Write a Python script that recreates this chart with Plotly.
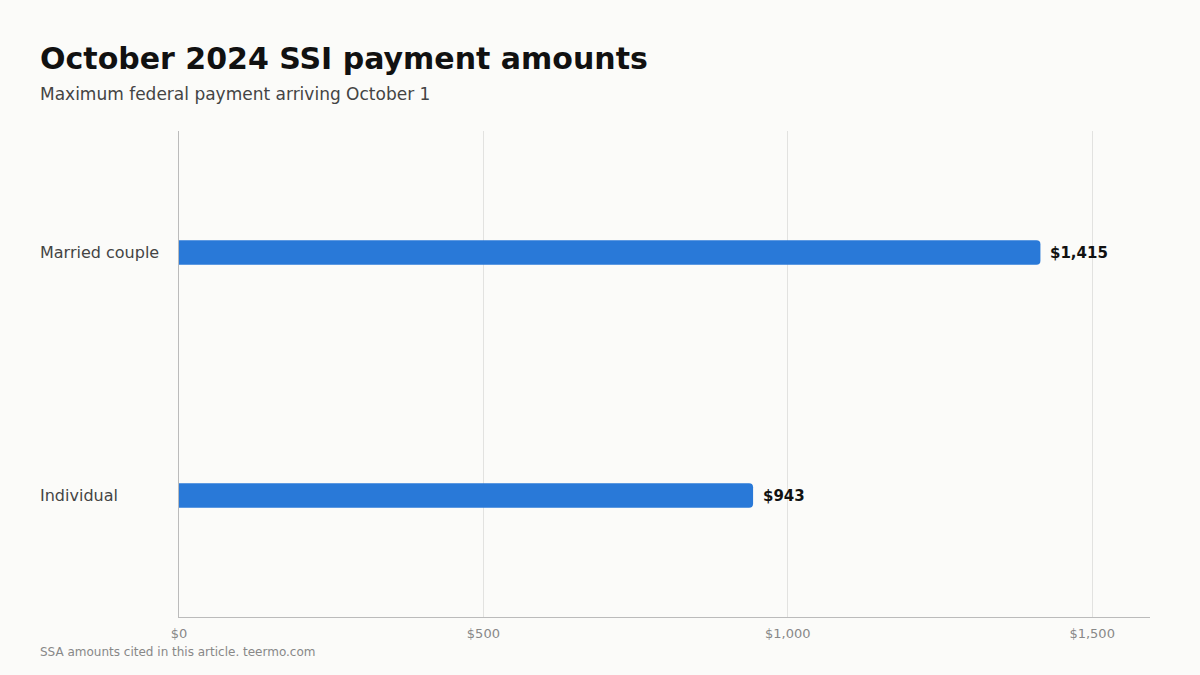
import plotly.graph_objects as go

categories = ["Individual", "Married couple"]
values = [943, 1415]
value_labels = ["$943", "$1,415"]
tick_vals = [0, 500, 1000, 1500]
tick_text = ["$0", "$500", "$1,000", "$1,500"]

W, H = 1200, 675
L, R, T, B = 179, 50, 131, 58
plot_w = W - L - R
plot_h = H - T - B
LEFT_X = (38 - L) / plot_w

fig = go.Figure()
fig.add_trace(go.Bar(
    x=values, y=categories, orientation="h",
    width=0.1, marker=dict(color="#2979d8", cornerradius=4, line=dict(width=0)),
    hoverinfo="skip",
))

for c, v, t in zip(categories, values, value_labels):
    fig.add_annotation(x=v, y=c, text=f"<b>{t}</b>", showarrow=False,
                       xanchor="left", xshift=8, yanchor="middle",
                       font=dict(family="DejaVu Sans", size=15, color="#111111"))
    fig.add_annotation(xref="paper", x=LEFT_X, y=c, text=c, showarrow=False,
                       xanchor="left", yanchor="middle",
                       font=dict(family="DejaVu Sans", size=16, color="#444444"))

fig.add_annotation(xref="paper", yref="paper", x=LEFT_X, y=1 + (T - 58) / plot_h,
                   text="<b>October 2024 SSI payment amounts</b>", showarrow=False,
                   xanchor="left", yanchor="middle",
                   font=dict(family="DejaVu Sans", size=30, color="#111111"))
fig.add_annotation(xref="paper", yref="paper", x=LEFT_X, y=1 + (T - 94) / plot_h,
                   text="Maximum federal payment arriving October 1", showarrow=False,
                   xanchor="left", yanchor="middle",
                   font=dict(family="DejaVu Sans", size=17, color="#444444"))
fig.add_annotation(xref="paper", yref="paper", x=LEFT_X, y=-(652 - (H - B)) / plot_h,
                   text="SSA amounts cited in this article. teermo.com", showarrow=False,
                   xanchor="left", yanchor="middle",
                   font=dict(family="DejaVu Sans", size=12, color="#888888"))

fig.update_layout(
    width=W, height=H,
    margin=dict(l=L, r=R, t=T, b=B),
    paper_bgcolor="#fbfbf9", plot_bgcolor="#fbfbf9",
    showlegend=False,
    xaxis=dict(range=[0, 1595], tickvals=tick_vals, ticktext=tick_text,
               showgrid=True, gridcolor="#e2e2e0", gridwidth=1,
               zeroline=False, showline=True, linecolor="#bbbbbb", linewidth=1,
               ticks="", ticklabelstandoff=4,
               tickfont=dict(family="DejaVu Sans", size=13, color="#888888")),
    yaxis=dict(range=[-0.5, 1.5], showticklabels=False, showgrid=False,
               zeroline=False, showline=True, linecolor="#bbbbbb", linewidth=1, ticks=""),
)

fig.write_html("out.html")
